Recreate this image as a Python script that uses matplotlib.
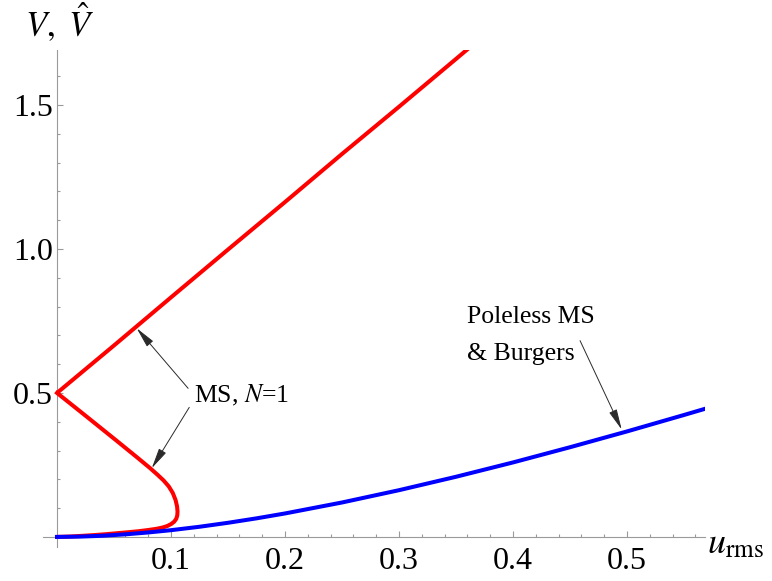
import matplotlib
matplotlib.use("Agg")
import matplotlib.pyplot as plt
from matplotlib.ticker import FixedLocator, FormatStrFormatter

# MS, N=1: upper branch (nearly straight) starting at V=1/2
ms_upper_u = [0.0, 0.05, 0.10, 0.15, 0.20, 0.25, 0.30, 0.35, 0.365]
ms_upper_V = [0.5, 0.665, 0.832, 0.998, 1.163, 1.330, 1.494, 1.660, 1.710]

# MS, N=1: lower branch, folds back at u ~ 0.105 and returns to the origin
ms_lower_u = [0.0, 0.0231, 0.0523, 0.0700, 0.0816, 0.0880, 0.0935, 0.0980, 0.1015,
              0.1040, 0.1053, 0.1057, 0.1055, 0.1046, 0.1028, 0.1002, 0.0968, 0.0925,
              0.0870, 0.0800, 0.0720, 0.0630, 0.0530, 0.0430, 0.0330, 0.0230, 0.0120, 0.0]
ms_lower_V = [0.5, 0.427, 0.334, 0.277, 0.239, 0.2165, 0.196, 0.1755, 0.153,
              0.128, 0.106, 0.088, 0.075, 0.063, 0.053, 0.045, 0.038, 0.0325,
              0.028, 0.024, 0.020, 0.0165, 0.013, 0.0095, 0.0065, 0.004, 0.0015, 0.0]

# poleless MS / Burgers
burgers_u = [0.0, 0.02, 0.04, 0.06, 0.08, 0.10, 0.125, 0.15, 0.175, 0.20, 0.25,
             0.30, 0.35, 0.40, 0.45, 0.50, 0.55, 0.568]
burgers_V = [0.0, 0.0011, 0.0041, 0.0090, 0.0155, 0.0234, 0.0353, 0.0491, 0.0645, 0.0815,
             0.1196, 0.1623, 0.2089, 0.2587, 0.3115, 0.3664, 0.4235, 0.4445]

x_major = [0.1, 0.2, 0.3, 0.4, 0.5]
y_major = [0.5, 1.0, 1.5]

plt.rcParams['font.family'] = ['Liberation Serif', 'DejaVu Serif']
plt.rcParams['mathtext.fontset'] = 'stix'

fig = plt.figure(figsize=(7.72, 5.81), dpi=100)
ax = fig.add_axes([43 / 772, 34 / 581, 662 / 772, 497 / 581])

ax.plot(ms_upper_u, ms_upper_V, color='#ff0000', lw=2.9, solid_capstyle='butt', zorder=3)
ax.plot(ms_lower_u, ms_lower_V, color='#ff0000', lw=2.9, solid_joinstyle='round', zorder=3)
ax.plot(burgers_u, burgers_V, color='#0000ff', lw=2.9, zorder=4)

ax.set_xlim(-0.0123, 0.5684)
ax.set_ylim(-0.035, 1.691)

# axes crossing at the origin
for side in ['top', 'right']:
    ax.spines[side].set_visible(False)
for side in ['left', 'bottom']:
    ax.spines[side].set_position(('data', 0))
    ax.spines[side].set_color('#9a9a9a')
    ax.spines[side].set_linewidth(0.8)

ax.xaxis.set_major_locator(FixedLocator(x_major))
ax.xaxis.set_minor_locator(FixedLocator([i * 0.02 for i in range(1, 29)]))
ax.yaxis.set_major_locator(FixedLocator(y_major))
ax.yaxis.set_minor_locator(FixedLocator([i * 0.1 for i in range(1, 17)]))
ax.xaxis.set_major_formatter(FormatStrFormatter('%.1f'))
ax.yaxis.set_major_formatter(FormatStrFormatter('%.1f'))

ax.tick_params(which='both', direction='in', color='#9a9a9a', width=0.8, labelsize=23)
ax.tick_params(which='major', length=4)
ax.tick_params(which='minor', length=2.3)
ax.tick_params(axis='x', which='major', pad=7)
ax.tick_params(axis='y', which='major', pad=3)

fig.text(25 / 772, 1 - 37 / 581, r'$V,\ \hat{V}$', fontsize=25, va='baseline', ha='left')
fig.text(707 / 772, 1 - 553 / 581, r'$u_{\mathrm{rms}}$', fontsize=26, va='baseline', ha='left')

arrow = dict(arrowstyle='-|>,head_length=0.7,head_width=0.14', color='#2a2a2a',
             lw=0.7, shrinkA=0, shrinkB=0, mutation_scale=18)

ax.text(0.1205, 0.49, r'MS, $N$=1', fontsize=18.5, va='center', ha='left')
ax.annotate('', xy=(0.0699, 0.7247), xytext=(0.115, 0.516), arrowprops=arrow)
ax.annotate('', xy=(0.0831, 0.2385), xytext=(0.116, 0.45), arrowprops=arrow)

ax.text(0.3594, 0.70, 'Poleless MS\n& Burgers', fontsize=18.5, va='center', ha='left',
        linespacing=1.85)
ax.annotate('', xy=(0.4953, 0.373), xytext=(0.4588, 0.6816), arrowprops=arrow)

fig.savefig('out.png', dpi=100)
